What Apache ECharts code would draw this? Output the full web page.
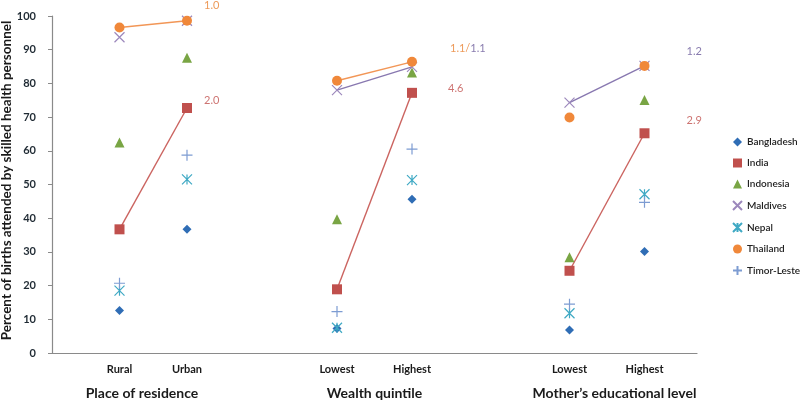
<!DOCTYPE html>
<html><head><meta charset="utf-8">
<script src="https://cdn.jsdelivr.net/npm/echarts@6/dist/echarts.min.js"></script>
<style>html,body{margin:0;padding:0;background:#fff}#c{width:800px;height:402px}</style>
</head><body><div id="c"></div>
<script>
// ---- data ----
const categories = ['Rural', 'Urban', 'Lowest', 'Highest', 'Lowest', 'Highest'];
const groupTitles = ['Place of residence', 'Wealth quintile', 'Mother\u2019s educational level'];
const countries = ['Bangladesh', 'India', 'Indonesia', 'Maldives', 'Nepal', 'Thailand', 'Timor-Leste'];
const bangladesh = [12.6, 36.7, 7.3, 45.6, 6.8, 30.1];
const india      = [36.7, 72.7, 18.9, 77.2, 24.4, 65.2];
const indonesia  = [62.5, 87.6, 39.7, 83.2, 28.4, 75.1];
const maldives   = [93.7, 98.6, 78.0, 84.9, 74.3, 85.2];
const nepal      = [18.5, 51.5, 7.5, 51.3, 11.8, 47.1];
const thailand   = [96.6, 98.6, 80.8, 86.4, 69.9, 85.2];
const timorLeste = [20.7, 58.7, 12.3, 60.5, 14.5, 44.7];
const yAxisTicks = [0, 10, 20, 30, 40, 50, 60, 70, 80, 90, 100];
// connected pairs (country, first category index, second category index)
const segments = [
  ['Thailand', 0, 1], ['India', 0, 1],
  ['Thailand', 2, 3], ['Maldives', 2, 3], ['India', 2, 3],
  ['Maldives', 4, 5], ['India', 4, 5]
];
// ratio annotations (text, country of anchor point, category index)
const ratioTexts = [
  ['1.0', 'Thailand', 1], ['2.0', 'India', 1],
  ['{o|1.1/}{p|1.1}', 'Thailand', 3], ['4.6', 'India', 3],
  ['1.2', 'Maldives', 5], ['2.9', 'India', 5]
];

// ---- layout (axis slots) ----
const SLOTS = 87;
const catSlot = [9, 18, 38, 48, 69, 79];
const groupSlot = [12, 43, 75];
const ratioOffset = [[17, -15], [17, -8], [38, -13], [36, -4], [42, -14], [42, -13]];

const values = {
  'Bangladesh': bangladesh, 'India': india, 'Indonesia': indonesia, 'Maldives': maldives,
  'Nepal': nepal, 'Thailand': thailand, 'Timor-Leste': timorLeste
};
const X = 'path://M0,0L10,10M10,0L0,10';
const AST = 'path://M0,0L10,10M10,0L0,10M5,0L5,10';
const PLUS = 'path://M5,0L5,10M0,5L10,5';
const styles = {
  'Bangladesh': { symbol: 'diamond', size: 9, fill: '#2F6DB5' },
  'India': { symbol: 'rect', size: 10, fill: '#C0504D' },
  'Indonesia': { symbol: 'triangle', size: 10, fill: '#79A544' },
  'Maldives': { symbol: X, size: 10, stroke: '#9C88BC' },
  'Nepal': { symbol: AST, size: 10, stroke: '#3FA9C4' },
  'Thailand': { symbol: 'circle', size: 10, fill: '#F0883A' },
  'Timor-Leste': { symbol: PLUS, size: 11, stroke: '#7D9CD2' }
};
const lineColors = { 'Thailand': '#F29656', 'India': '#CB6460', 'Maldives': '#8878B0' };
const ratioColors = { 'Thailand': '#E8812F', 'India': '#C0504D', 'Maldives': '#6A5A9A' };

const xData = new Array(SLOTS).fill('');
catSlot.forEach((s, i) => { xData[s] = categories[i]; });
const gData = new Array(SLOTS).fill('');
groupSlot.forEach((s, i) => { gData[s] = groupTitles[i]; });

const FONT = 'Lato';
const series = [];
segments.forEach(([c, a, b]) => {
  series.push({
    type: 'line', silent: true, z: 1, showSymbol: false, symbol: 'none',
    data: [[catSlot[a], values[c][a]], [catSlot[b], values[c][b]]],
    lineStyle: { color: lineColors[c], width: 1.4 }
  });
});
countries.forEach(c => {
  const st = styles[c];
  series.push({
    type: 'scatter', name: c, z: 3, symbol: st.symbol, symbolSize: st.size,
    data: values[c].map((v, i) => [catSlot[i], v]),
    itemStyle: st.fill ? { color: st.fill, opacity: 1 } :
      { color: 'rgba(0,0,0,0)', borderColor: st.stroke, borderWidth: 1.2, opacity: 1 }
  });
});
series.push({
  type: 'scatter', silent: true, z: 4, symbolSize: 0,
  data: ratioTexts.map(([t, c, i], k) => ({
    value: [catSlot[i], values[c][i]],
    label: {
      show: true, position: 'right', distance: 0, offset: ratioOffset[k],
      formatter: t, color: ratioColors[c], fontSize: 11, fontFamily: FONT,
      rich: { o: { color: ratioColors['Thailand'], fontSize: 11, fontFamily: FONT },
              p: { color: ratioColors['Maldives'], fontSize: 11, fontFamily: FONT } }
    }
  }))
});

const chart = echarts.init(document.getElementById('c'), null, { renderer: 'canvas' });
chart.setOption({
  animation: false,
  backgroundColor: '#fff',
  textStyle: { fontFamily: FONT },
  grid: { left: 52, right: 103, top: 16, bottom: 49, containLabel: false, outerBoundsMode: 'none' },
  legend: {
    orient: 'vertical', left: 727, top: 132, itemWidth: 9, itemHeight: 9, itemGap: 11,
    data: countries,
    textStyle: { fontSize: 10, color: '#222', fontFamily: FONT, fontWeight: 600 }
  },
  xAxis: [{
    type: 'category', data: xData, boundaryGap: false,
    axisLine: { show: true, lineStyle: { color: '#8a8a8a', width: 1.2 } },
    axisTick: { show: false },
    axisLabel: { interval: 0, margin: 11, fontSize: 11, fontWeight: 'bold', color: '#1a1a1a', fontFamily: FONT },
    splitLine: { show: false }
  }, {
    type: 'category', data: gData, boundaryGap: false, position: 'bottom',
    axisLine: { show: false }, axisTick: { show: false },
    axisLabel: { interval: 0, margin: 33, fontSize: 14, fontWeight: 'bold', color: '#1a1a1a', fontFamily: FONT },
    splitLine: { show: false }
  }],
  yAxis: {
    type: 'value', min: yAxisTicks[0], max: yAxisTicks[yAxisTicks.length - 1], interval: 10,
    name: 'Percent of births attended by skilled health personnel',
    nameLocation: 'middle', nameGap: 38, nameMoveOverlap: false,
    nameTextStyle: { fontSize: 13.5, fontWeight: 'bold', color: '#1a1a1a', fontFamily: FONT, padding: [0, 0, 0, 8] },
    axisLine: { show: true, lineStyle: { color: '#8a8a8a', width: 1.2 } },
    axisTick: { show: true, length: 4, lineStyle: { color: '#8a8a8a' } },
    axisLabel: { margin: 16, fontSize: 11, fontWeight: 'bold', color: '#1f2a33', fontFamily: FONT },
    splitLine: { show: false }
  },
  series: series
});
</script></body></html>
